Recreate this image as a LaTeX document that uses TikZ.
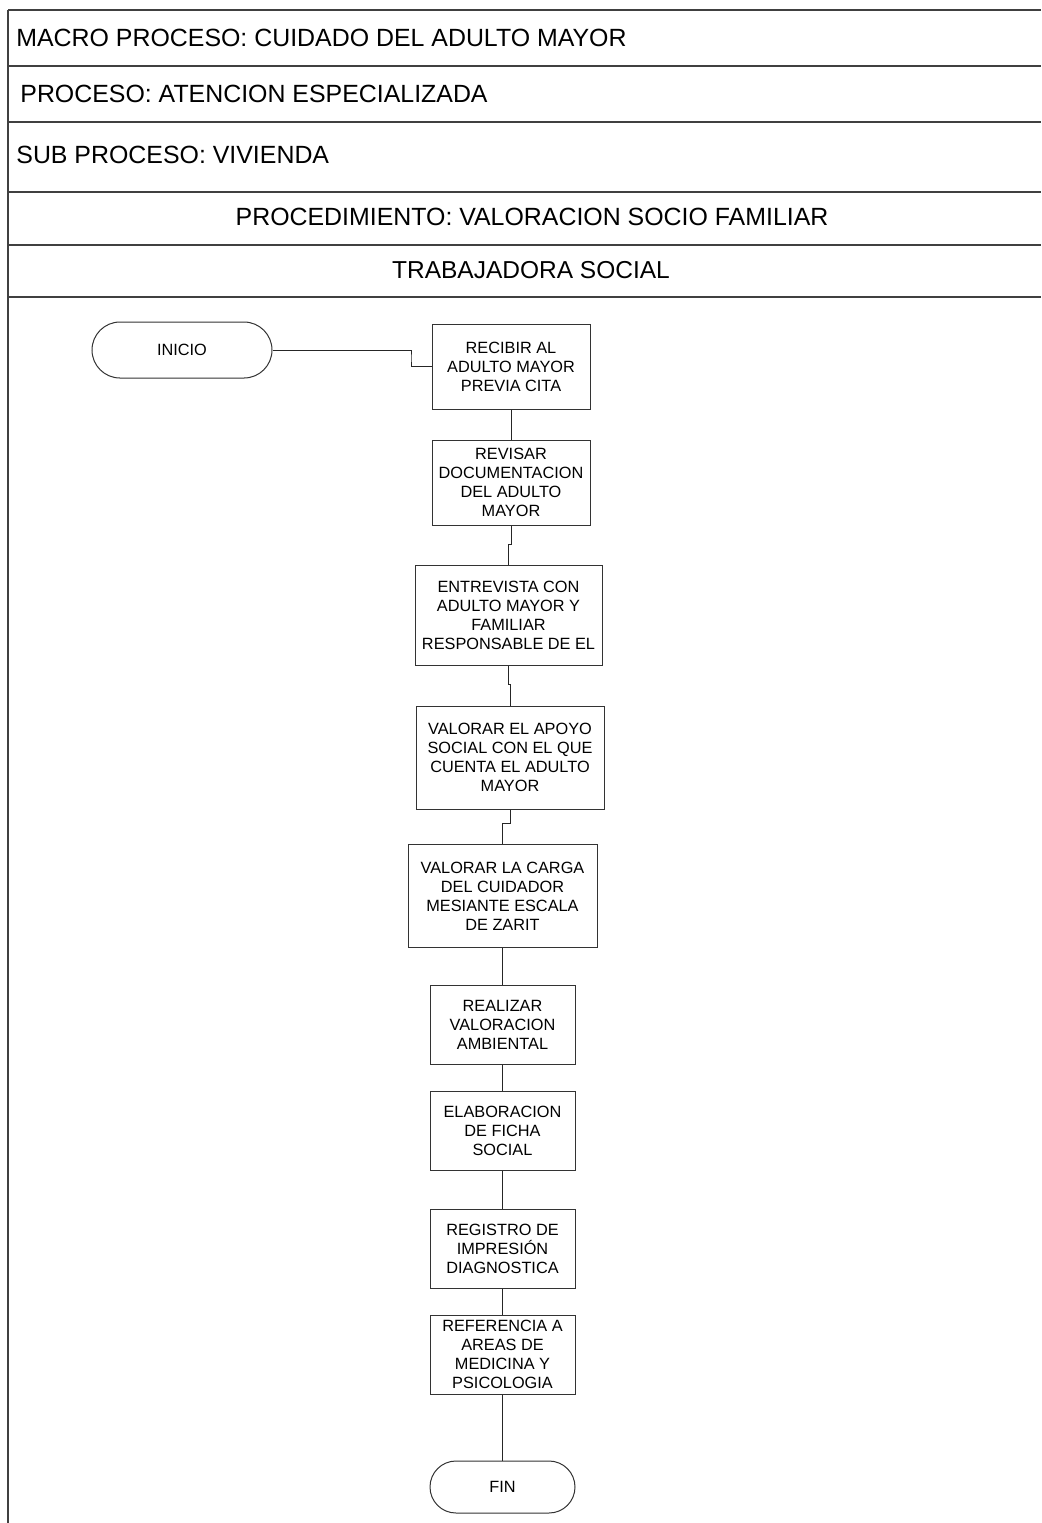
\documentclass[tikz,border=0pt]{standalone}
\usepackage{fontspec}
\setmainfont{Liberation Sans}
\begin{document}
\begin{tikzpicture}[x=0.5pt,y=-0.5pt,
  frame/.style={draw=black!75,line width=0.6pt},
  hdr/.style={font=\fontsize{12.45pt}{14pt}\selectfont,inner sep=0pt},
  proc/.style={draw=black!80,line width=0.5pt,align=center,inner sep=0pt,
    font=\fontsize{8.15pt}{9.5pt}\selectfont},
  term/.style={proc,rounded corners=#1},
  link/.style={draw=black!85,line width=0.5pt}]
\useasboundingbox (0,0) rectangle (1041,1523);

% header table
\draw[frame] (8,10) -- (8,1523);
\foreach \yy in {10,66,122,192,245,297}
  \draw[frame] (8,\yy) -- (1041,\yy);
\node[hdr,anchor=west] (macro) at (16,38) {MACRO PROCESO: CUIDADO DEL ADULTO MAYOR};
\node[hdr,anchor=west] (proceso) at (20,94) {PROCESO: ATENCION ESPECIALIZADA};
\node[hdr,anchor=west] (sub) at (16,155) {SUB PROCESO: VIVIENDA};
\node[hdr] (procedimiento) at (532,217) {PROCEDIMIENTO: VALORACION SOCIO FAMILIAR};
\node[hdr,font=\fontsize{12.25pt}{14pt}\selectfont] (rol) at (531,270) {TRABAJADORA SOCIAL};

% flow nodes
\node[term=14pt,minimum width=90pt,minimum height=28pt] (inicio) at (182,350) {INICIO};
\node[proc,minimum width=79pt,minimum height=42.5pt] (recibir) at (511,366.5)
  {RECIBIR AL\\ADULTO MAYOR\\PREVIA CITA};
\node[proc,minimum width=79pt,minimum height=42.5pt] (revisar) at (511,482.5)
  {REVISAR\\DOCUMENTACION\\DEL ADULTO\\MAYOR};
\node[proc,minimum width=93.5pt,minimum height=50pt] (entrevista) at (508.5,615.5)
  {ENTREVISTA CON\\ADULTO MAYOR Y\\FAMILIAR\\RESPONSABLE DE EL};
\node[proc,minimum width=94pt,minimum height=51.5pt] (apoyo) at (510,757.5)
  {VALORAR EL APOYO\\SOCIAL CON EL QUE\\CUENTA EL ADULTO\\MAYOR};
\node[proc,minimum width=94.5pt,minimum height=51.5pt] (carga) at (502.5,896)
  {VALORAR LA CARGA\\DEL CUIDADOR\\MESIANTE ESCALA\\DE ZARIT};
\node[proc,minimum width=72.5pt,minimum height=39.5pt] (realizar) at (502.5,1024.5)
  {REALIZAR\\VALORACION\\AMBIENTAL};
\node[proc,minimum width=72.5pt,minimum height=39.5pt] (ficha) at (502.5,1130.5)
  {ELABORACION\\DE FICHA\\SOCIAL};
\node[proc,minimum width=72.5pt,minimum height=39.5pt] (registro) at (502.5,1248.5)
  {REGISTRO DE\\IMPRESIÓN\\DIAGNOSTICA};
\node[proc,minimum width=72.5pt,minimum height=39.5pt] (referencia) at (502.5,1354.5)
  {REFERENCIA A\\AREAS DE\\MEDICINA Y\\PSICOLOGIA};
\node[term=13pt,minimum width=72.5pt,minimum height=26pt] (fin) at (502.5,1487) {FIN};

% bend points of the connectors
\coordinate (b1) at (411,358);
\coordinate (b2) at (509,544);
\coordinate (b3) at (509,684);
\coordinate (b4) at (506,823);

% connectors
\draw[link] (inicio.east) -| (b1) |- (recibir.west);
\draw[link] (recibir) -- (revisar);
\draw[link] (revisar.south) |- (b2) -| (entrevista.north);
\draw[link] (entrevista.south) |- (b3) -| (apoyo.north);
\draw[link] (apoyo.south) |- (b4) -| (carga.north);
\draw[link] (carga) -- (realizar);
\draw[link] (realizar) -- (ficha);
\draw[link] (ficha) -- (registro);
\draw[link] (registro) -- (referencia);
\draw[link] (referencia) -- (fin);
\end{tikzpicture}
\end{document}
